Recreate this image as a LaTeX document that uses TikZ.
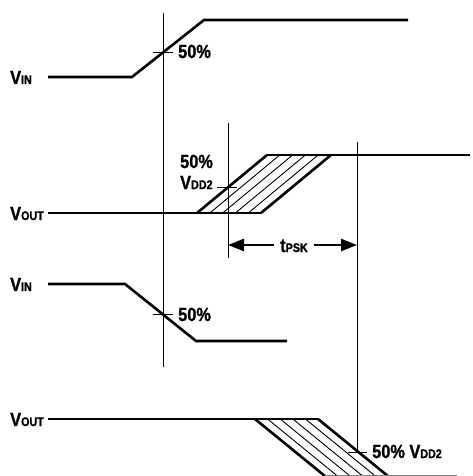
\documentclass[tikz,border=0pt]{standalone}
\usepackage{fontspec}
\setmainfont{Liberation Sans}
\newfontfamily\lblfont{Liberation Sans}[FakeStretch=0.86, BoldFeatures={FakeBold=1.2}]
\usetikzlibrary{arrows.meta}
\newcommand\sbs[1]{{\fontsize{12.5}{13}\selectfont #1}}
\begin{document}
\begin{tikzpicture}[x=1pt,y=-1pt,
  sig/.style={line width=2.6pt, line join=miter},
  guide/.style={line width=0.9pt},
  hatch/.style={line width=0.9pt},
  lbl/.style={font=\lblfont\fontsize{19}{20}\selectfont\bfseries, inner sep=0pt, anchor=base west},
  arr/.style={line width=2.6pt, -{Triangle[length=16pt,width=12pt]}},
  ]
\useasboundingbox (0,0) rectangle (473,476);
\clip (0,0) rectangle (473,476);

% guide lines
\draw[guide] (163,13) -- (163,367);
\draw[guide] (228,123) -- (228,258);
\draw[guide] (357,142) -- (357,452);

% ticks
\draw[guide] (153,52) -- (173,52);
\draw[guide] (217,187) -- (237,187);
\draw[guide] (153,314) -- (173,314);
\draw[guide] (348,452) -- (367,452);

% top VIN
\draw[sig] (48,77) -- (132,77) -- (204,20) -- (408,20);

% top VOUT
\draw[sig] (48,213) -- (261,213);
\draw[sig] (267,155) -- (470,155);
\draw[sig] (197,213) -- (267,155);
\draw[sig] (261,213) -- (331,155);
\foreach \k in {1,...,4}
  \draw[hatch] ({197+12.8*\k},213) -- ({267+12.8*\k},155);

% bottom VIN
\draw[sig] (48,284) -- (125,284) -- (196,341) -- (287,341);

% bottom VOUT
\draw[sig] (48,419) -- (318,419);
\draw[sig] (255,419) -- ({255+87},490);
\draw[sig] (318,419) -- ({318+87},490);
\foreach \k in {1,...,4}
  \draw[hatch] ({255+12.6*\k},419) -- ({255+12.6*\k+87},490);
\draw[line width=1pt, gray] (325,475.5) -- (457,475.5);

% labels
\node[lbl] (vin1) at (10,84) {V\sbs{IN}};
\node[lbl] (vout1) at (10,220) {V\sbs{OUT}};
\node[lbl] (vin2) at (10,291) {V\sbs{IN}};
\node[lbl] (vout2) at (10,426) {V\sbs{OUT}};
\node[lbl] (p1) at (178,58) {50\%};
\node[lbl] (p2) at (180,168) {50\%};
\node[lbl] (p2b) at (180,189) {V\sbs{DD2}};
\node[lbl] (p3) at (178,321) {50\%};
\node[lbl] (p4) at (372,458) {50\% V\sbs{DD2}};

% tPSK arrow
\coordinate (aL) at (228,245);
\coordinate (aR) at (357,245);
\node[lbl, anchor=base, inner xsep=6pt] (tpsk) at (294,252) {t\sbs{PSK}};
\draw[arr] (tpsk.west |- aL) -- (aL);
\draw[arr] (tpsk.east |- aR) -- (aR);
\end{tikzpicture}
\end{document}
